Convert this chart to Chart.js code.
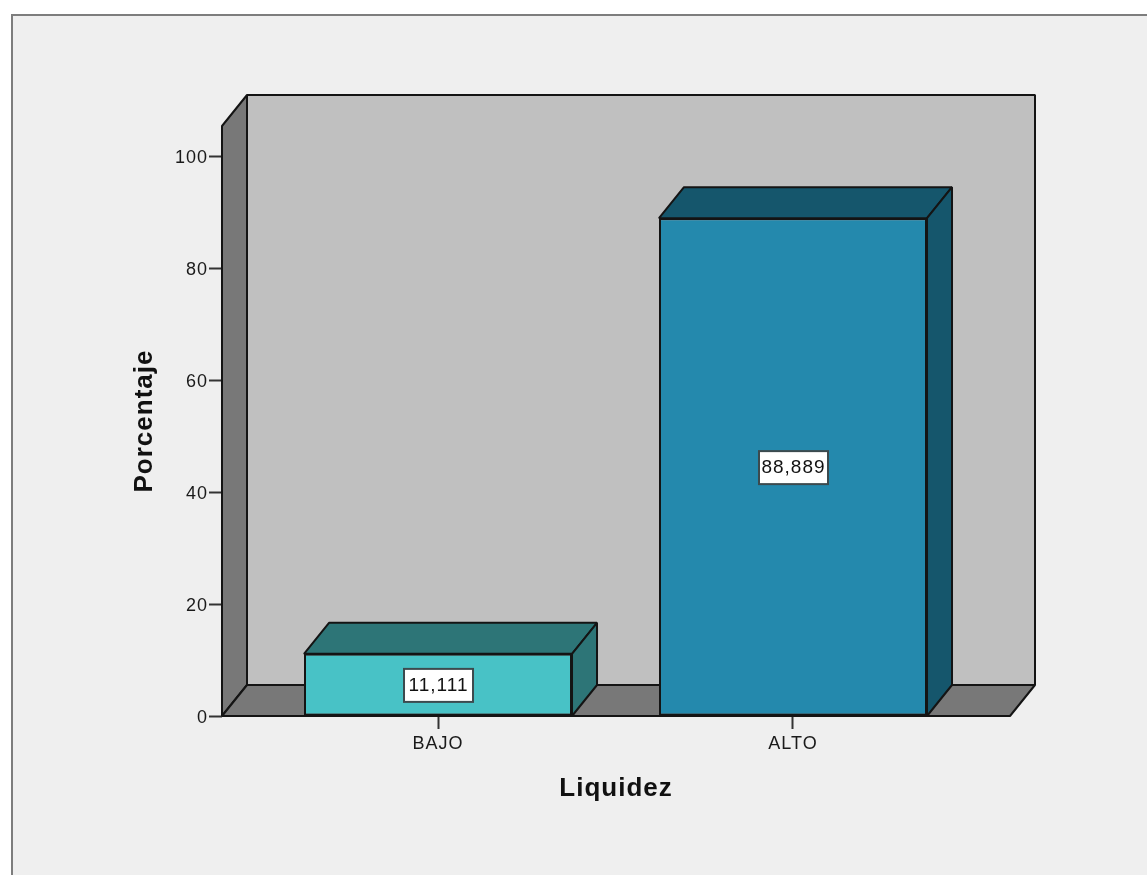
<!DOCTYPE html>
<html>
<head>
<meta charset="utf-8">
<title>Liquidez</title>
<script src="https://cdn.jsdelivr.net/npm/chart.js@4"></script>
<style>
    html, body { margin: 0; padding: 0; background: #fff; overflow: hidden; }
    #frame {
        position: absolute; left: 11px; top: 14px; right: 0; bottom: 0;
        background: #efefef;
        border-left: 2px solid #7d7d7d;
        border-top: 2px solid #7d7d7d;
    }
    #chart { position: absolute; left: 0; top: 0; }
</style>
</head>
<body>
<div id="frame"></div>
<canvas id="chart" width="1147" height="875"></canvas>
<script>
// ========================================
// DATA
// ========================================
const categories = ['BAJO', 'ALTO'];
const percentages = [11.111, 88.889];
const valueLabels = ['11,111', '88,889'];
const frontColors = ['#48c2c6', '#2489ad'];
const sideColors = ['#2d7577', '#15566c'];

const FONT = '"Liberation Sans", Arial, sans-serif';
const INK = '#141414';
const DEPTH_X = 25;
const DEPTH_Y = 31;

function fillPoly(ctx, pts, fill) {
    ctx.beginPath();
    pts.forEach((p, i) => i ? ctx.lineTo(p[0], p[1]) : ctx.moveTo(p[0], p[1]));
    ctx.closePath();
    ctx.fillStyle = fill;
    ctx.fill();
    ctx.stroke();
}

// ========================================
// 3D BOX: walls and floor behind the bars, extrusion of each bar
// ========================================
const boxPlugin = {
    id: 'box3d',
    beforeDraw(chart) {
        // the reference text is slightly tracked out
        chart.ctx.letterSpacing = '1px';
    },
    beforeDatasetsDraw(chart) {
        const { ctx, chartArea: a } = chart;
        const dx = DEPTH_X, dy = DEPTH_Y;
        ctx.save();
        ctx.strokeStyle = INK;
        ctx.lineWidth = 2;
        ctx.lineJoin = 'bevel';

        fillPoly(ctx, [[a.left + dx, a.top - dy], [a.right + dx, a.top - dy], [a.right + dx, a.bottom - dy], [a.left + dx, a.bottom - dy]], '#c0c0c0');
        fillPoly(ctx, [[a.left, a.top], [a.left + dx, a.top - dy], [a.left + dx, a.bottom - dy], [a.left, a.bottom]], '#787878');
        fillPoly(ctx, [[a.left, a.bottom], [a.left + dx, a.bottom - dy], [a.right + dx, a.bottom - dy], [a.right, a.bottom]], '#787878');

        chart.getDatasetMeta(0).data.forEach((bar, i) => {
            const l = bar.x - bar.width / 2;
            const r = bar.x + bar.width / 2;
            fillPoly(ctx, [[l, bar.y], [l + dx, bar.y - dy], [r + dx, bar.y - dy], [r, bar.y]], sideColors[i]);
            fillPoly(ctx, [[r, bar.y], [r + dx, bar.y - dy], [r + dx, a.bottom - dy], [r, a.bottom]], sideColors[i]);
        });
        ctx.restore();
    },
    afterDatasetsDraw(chart) {
        const { ctx, chartArea: a } = chart;
        ctx.save();
        chart.getDatasetMeta(0).data.forEach((bar, i) => {
            const cy = (bar.y + a.bottom) / 2;
            ctx.fillStyle = '#fff';
            ctx.strokeStyle = '#3c4a4e';
            ctx.lineWidth = 2;
            ctx.fillRect(bar.x - 34, cy - 16, 69, 33);
            ctx.strokeRect(bar.x - 34, cy - 16, 69, 33);
            ctx.fillStyle = '#111';
            ctx.font = '19px ' + FONT;
            ctx.textAlign = 'center';
            ctx.textBaseline = 'middle';
            ctx.fillText(valueLabels[i], bar.x + 0.5, cy + 1);
        });
        // front edge of the floor sits on top of the bars
        ctx.strokeStyle = INK;
        ctx.lineWidth = 2;
        ctx.beginPath();
        ctx.moveTo(a.left, a.bottom);
        ctx.lineTo(a.right, a.bottom);
        ctx.stroke();
        ctx.restore();
    }
};

// ========================================
// CHART
// ========================================
new Chart(document.getElementById('chart'), {
    type: 'bar',
    data: {
        datasets: [{
            data: categories.map((_, i) => ({ x: i, y: percentages[i] })),
            backgroundColor: frontColors,
            borderColor: INK,
            borderWidth: 2,
            borderSkipped: false,
            barPercentage: 0.755,
            categoryPercentage: 1
        }]
    },
    options: {
        responsive: false,
        animation: false,
        layout: { padding: { left: 0, top: 126, right: 137, bottom: 0 } },
        plugins: { legend: { display: false }, tooltip: { enabled: false } },
        scales: {
            x: {
                type: 'linear',
                offset: false,
                min: -0.6085,
                max: 1.6113,
                afterFit: (s) => { s.height = 159; },
                grid: { offset: false, drawOnChartArea: false, tickLength: 13, tickColor: '#333', tickWidth: 2 },
                border: { display: false },
                ticks: {
                    stepSize: 1,
                    includeBounds: false,
                    maxRotation: 0,
                    padding: 4,
                    color: '#1a1a1a',
                    font: { family: FONT, size: 18 },
                    callback: (v) => categories[v]
                },
                title: {
                    display: true,
                    text: 'Liquidez',
                    color: '#111',
                    font: { family: FONT, size: 26, weight: 'bold' },
                    padding: { top: 0, bottom: 71 }
                }
            },
            y: {
                min: 0,
                max: 105.36,
                afterFit: (s) => { s.width = 222; },
                grid: { drawOnChartArea: false, tickLength: 13, tickColor: '#333', tickWidth: 2 },
                border: { display: false },
                ticks: {
                    stepSize: 20,
                    includeBounds: false,
                    padding: 1,
                    labelOffset: 2,
                    color: '#1a1a1a',
                    font: { family: FONT, size: 18 }
                },
                title: {
                    display: true,
                    text: 'Porcentaje',
                    color: '#111',
                    font: { family: FONT, size: 26, weight: 'bold' },
                    padding: { top: 129, bottom: 0 }
                }
            }
        }
    },
    plugins: [boxPlugin]
});
</script>
</body>
</html>
